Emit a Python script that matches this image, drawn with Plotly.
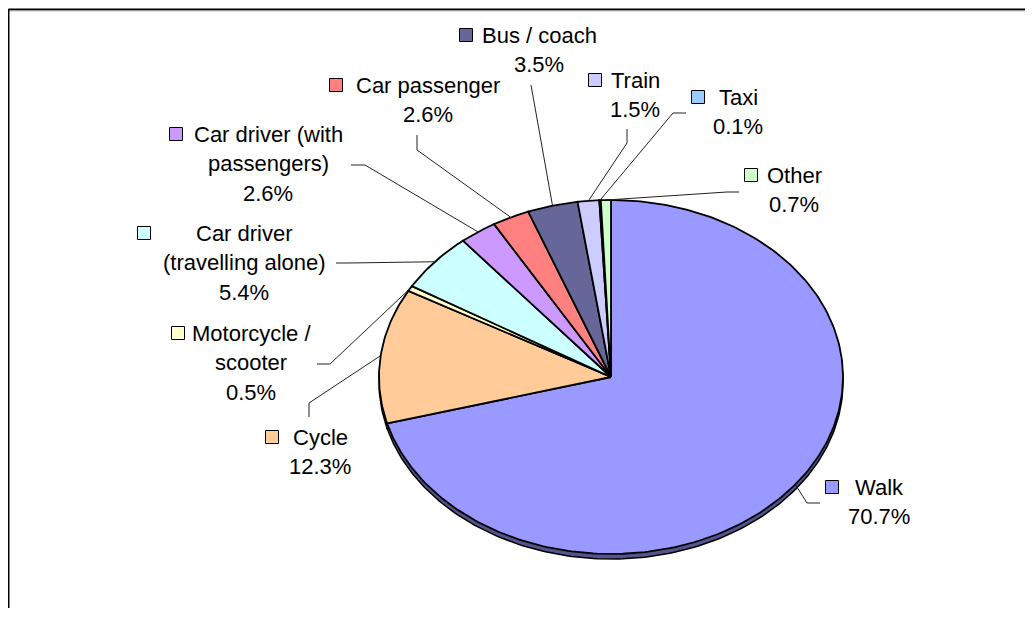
import numpy as np
import plotly.graph_objects as go

# ---- data ----
categories = ["Walk", "Cycle", "Motorcycle / scooter", "Car driver (travelling alone)",
              "Car driver (with passengers)", "Car passenger", "Bus / coach", "Train",
              "Taxi", "Other"]
values = [70.7, 12.3, 0.5, 5.4, 2.6, 2.6, 3.5, 1.5, 0.1, 0.7]
colors = ["#9999FF", "#FFCC99", "#FFFFCC", "#CCFFFF", "#CC99FF",
          "#FF8080", "#666699", "#CCCCFF", "#99CCFF", "#CCFFCC"]

# ---- layout of the drawing (page-pixel coordinates) ----
CX, CY, RX, RY, DEPTH = 611, 377, 232, 177, 5
FONT = dict(family="Liberation Sans, Arial, sans-serif", size=22, color="black")
LINE_H = 29.5

label_lines = {
    "Walk": ["Walk"],
    "Cycle": ["Cycle"],
    "Motorcycle / scooter": ["Motorcycle /", "scooter"],
    "Car driver (travelling alone)": ["Car driver", "(travelling alone)"],
    "Car driver (with passengers)": ["Car driver (with", "passengers)"],
    "Car passenger": ["Car passenger"],
    "Bus / coach": ["Bus / coach"],
    "Train": ["Train"],
    "Taxi": ["Taxi"],
    "Other": ["Other"],
}
# block centre x, first line y, key centre x, leader points (label side first)
label_pos = {
    "Walk": (879, 487, 832, [(820, 503), (807, 503)]),
    "Cycle": (320, 437, 272, [(309, 417), (309, 403)]),
    "Motorcycle / scooter": (251, 333, 178, [(317, 364), (330, 364)]),
    "Car driver (travelling alone)": (244, 233, 144, [(336, 263), (348, 263)]),
    "Car driver (with passengers)": (268, 134, 176, [(351, 165), (365, 165)]),
    "Car passenger": (428, 85, 336, [(417, 135), (417, 150)]),
    "Bus / coach": (539, 35, 466, [(531, 85)]),
    "Train": (635, 80, 595, [(627, 129), (627, 143)]),
    "Taxi": (738, 97, 698, [(686, 113), (673, 113)]),
    "Other": (794, 175, 751, [(739, 192), (727, 192)]),
}


def darken(hx, f=0.5):
    hx = hx.lstrip("#")
    r, g, b = (int(hx[i:i + 2], 16) for i in (0, 2, 4))
    return "#%02x%02x%02x" % (int(r * f), int(g * f), int(b * f))


total = float(sum(values))
fig = go.Figure()

starts = np.cumsum([0] + values[:-1]) / total * 2 * np.pi
ends = np.cumsum(values) / total * 2 * np.pi


def slice_xy(a0, a1, dy=0.0):
    n = max(4, int((a1 - a0) / (2 * np.pi) * 400))
    t = np.linspace(a0, a1, n)
    xs = np.concatenate([[CX], CX + RX * np.sin(t), [CX]])
    ys = np.concatenate([[CY], CY - RY * np.cos(t), [CY]]) + dy
    return xs, ys


# side (3D depth) first
for a0, a1, c in zip(starts, ends, colors):
    xs, ys = slice_xy(a0, a1, DEPTH)
    fig.add_trace(go.Scatter(x=xs, y=ys, mode="lines", fill="toself",
                             fillcolor=darken(c, 0.55),
                             line=dict(color="black", width=1.5),
                             hoverinfo="skip", showlegend=False))
# top faces
for a0, a1, c, name in zip(starts, ends, colors, categories):
    xs, ys = slice_xy(a0, a1)
    fig.add_trace(go.Scatter(x=xs, y=ys, mode="lines", fill="toself",
                             fillcolor=c, line=dict(color="black", width=1.8),
                             name=name, hoverinfo="skip", showlegend=False))

annotations = []
shapes = []
for name, v, c, a0, a1 in zip(categories, values, colors, starts, ends):
    bx, by, kx, leader = label_pos[name]
    lines = label_lines[name] + [f"{v:.1f}%"]
    for i, txt in enumerate(lines):
        annotations.append(dict(x=bx, y=by + i * LINE_H, text=txt, showarrow=False,
                                xanchor="center", yanchor="middle", font=FONT,
                                xref="x", yref="y"))
    shapes.append(dict(type="rect", xref="x", yref="y", x0=kx - 6.5, x1=kx + 6.5,
                       y0=by - 6.5, y1=by + 6.5, fillcolor=c,
                       line=dict(color="black", width=1)))
    mid = (a0 + a1) / 2
    ax_, ay_ = CX + RX * np.sin(mid), CY - RY * np.cos(mid)
    pts = leader + [(ax_, ay_)]
    fig.add_trace(go.Scatter(x=[p[0] for p in pts], y=[p[1] for p in pts],
                             mode="lines", line=dict(color="#222222", width=1),
                             hoverinfo="skip", showlegend=False))

# frame lines
shapes.append(dict(type="line", xref="x", yref="y", x0=8.5, x1=1040, y0=9.5, y1=9.5,
                   line=dict(color="black", width=2)))
shapes.append(dict(type="line", xref="x", yref="y", x0=8.5, x1=1040, y0=11, y1=11,
                   line=dict(color="#bbbbbb", width=1)))
shapes.append(dict(type="line", xref="x", yref="y", x0=8.5, x1=8.5, y0=9, y1=640,
                   line=dict(color="black", width=2)))

W, H, OFF = 1017, 600, 8
fig.update_layout(
    width=W, height=H, autosize=False,
    margin=dict(l=0, r=0, t=0, b=0),
    paper_bgcolor="white", plot_bgcolor="white",
    xaxis=dict(range=[OFF, OFF + W], visible=False, fixedrange=True),
    yaxis=dict(range=[OFF + H, OFF], visible=False, fixedrange=True),
    annotations=annotations, shapes=shapes,
)
fig.write_html("out.html")
